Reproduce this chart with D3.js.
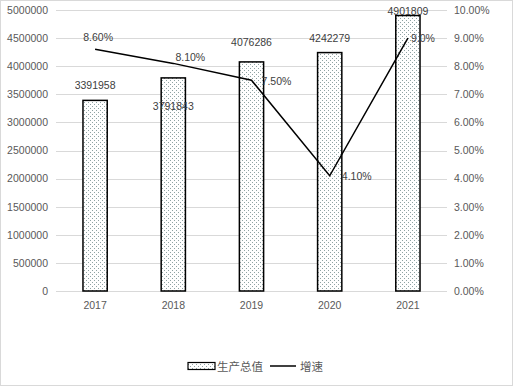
<!DOCTYPE html>
<html>
<head>
<meta charset="utf-8">
<script src="https://cdn.jsdelivr.net/npm/d3@7"></script>
<style>
  body { margin: 0; background: #fff; }
  svg { display: block; font-family: "Liberation Sans", Arial, sans-serif; }
  .tick text { fill: #595959; font-size: 10.5px; }
  .lbl { fill: #404040; font-size: 10.5px; }
  .legend text { fill: #595959; font-size: 11.5px; font-family: "Noto Sans CJK SC", sans-serif; }
</style>
</head>
<body>
<svg width="513" height="386"></svg>
<script>
const years = ["2017", "2018", "2019", "2020", "2021"];
const output = [3391958, 3791843, 4076286, 4242279, 4901809];
const growth = [0.086, 0.081, 0.075, 0.041, 0.090];
const growthLabels = ["8.60%", "8.10%", "7.50%", "4.10%", "9.0%"];
const leftTicks = [0, 500000, 1000000, 1500000, 2000000, 2500000, 3000000, 3500000, 4000000, 4500000, 5000000];
const rightTicks = [0, 0.01, 0.02, 0.03, 0.04, 0.05, 0.06, 0.07, 0.08, 0.09, 0.10];
const seriesNames = ["生产总值", "增速"];

const svg = d3.select("svg"),
      margin = {top: 10, right: 66, bottom: 95, left: 56},
      width = +svg.attr("width") - margin.left - margin.right,
      height = +svg.attr("height") - margin.top - margin.bottom;

// chart border
svg.append("rect")
    .attr("x", 0.5).attr("y", 0.5)
    .attr("width", 512).attr("height", 385)
    .attr("fill", "#fff").attr("stroke", "#d9d9d9");

// dotted fill
const pat = svg.append("defs").append("pattern")
    .attr("id", "dots")
    .attr("width", 4).attr("height", 4)
    .attr("patternUnits", "userSpaceOnUse");
pat.append("rect").attr("width", 4).attr("height", 4).attr("fill", "#fff");
pat.append("rect").attr("x", 0).attr("y", 0).attr("width", 1).attr("height", 1).attr("fill", "#8fa3a3");
pat.append("rect").attr("x", 2).attr("y", 2).attr("width", 1).attr("height", 1).attr("fill", "#8fa3a3");

const g = svg.append("g")
    .attr("transform", `translate(${margin.left},${margin.top})`);

const x = d3.scaleBand()
    .domain(years)
    .range([0, width])
    .paddingInner(0.69)
    .paddingOuter(0.345);

const y = d3.scaleLinear()
    .domain([0, 5000000])
    .range([height, 0]);

const y2 = d3.scaleLinear()
    .domain([0, 0.10])
    .range([height, 0]);

// Gridlines
g.append("g")
  .selectAll("line")
  .data(leftTicks)
  .join("line")
    .attr("x1", 0).attr("x2", width)
    .attr("y1", d => Math.round(y(d)) + 0.5)
    .attr("y2", d => Math.round(y(d)) + 0.5)
    .attr("stroke", "#d9d9d9");

// Axes
const yAxis = g.append("g")
    .call(d3.axisLeft(y).tickValues(leftTicks).tickSize(0).tickPadding(8).tickFormat(d3.format("d")));
yAxis.select(".domain").remove();

const y2Axis = g.append("g")
    .attr("transform", `translate(${width},0)`)
    .call(d3.axisRight(y2).tickValues(rightTicks).tickSize(0).tickPadding(7).tickFormat(d3.format(".2%")));
y2Axis.select(".domain").remove();

const xAxis = g.append("g")
    .attr("transform", `translate(0,${height})`)
    .call(d3.axisBottom(x).tickSize(0).tickPadding(11));
xAxis.select(".domain").remove();

// Bars
g.selectAll(".bar")
  .data(years)
  .join("rect")
    .attr("class", "bar")
    .attr("x", d => x(d))
    .attr("y", (d, i) => y(output[i]))
    .attr("width", x.bandwidth())
    .attr("height", (d, i) => height - y(output[i]))
    .attr("fill", "url(#dots)")
    .attr("stroke", "#000")
    .attr("stroke-width", 1.5);

// Line
const line = d3.line()
    .x((d, i) => x(years[i]) + x.bandwidth() / 2)
    .y(d => y2(d));

g.append("path")
    .datum(growth)
    .attr("fill", "none")
    .attr("stroke", "#000")
    .attr("stroke-width", 1.5)
    .attr("d", line);

// Bar labels (offsets relative to bar top)
const barLabelDy = [-11, 32, -16, -11, -1];
g.selectAll(".barlbl")
  .data(years)
  .join("text")
    .attr("class", "lbl")
    .attr("x", d => x(d) + x.bandwidth() / 2)
    .attr("y", (d, i) => y(output[i]) + barLabelDy[i])
    .attr("text-anchor", "middle")
    .text((d, i) => output[i]);

// Line labels
const lineLabelOffset = [[3, -8], [17, -2], [25, 5], [27, 4], [15, 4]];
g.selectAll(".linelbl")
  .data(years)
  .join("text")
    .attr("class", "lbl")
    .attr("x", (d, i) => x(d) + x.bandwidth() / 2 + lineLabelOffset[i][0])
    .attr("y", (d, i) => y2(growth[i]) + lineLabelOffset[i][1])
    .attr("text-anchor", "middle")
    .text((d, i) => growthLabels[i]);

// Legend
const legend = svg.append("g").attr("class", "legend");
legend.append("rect")
    .attr("x", 188).attr("y", 362.5)
    .attr("width", 27).attr("height", 7)
    .attr("fill", "url(#dots)")
    .attr("stroke", "#000").attr("stroke-width", 1.2);
legend.append("text")
    .attr("x", 217).attr("y", 370.5)
    .text(seriesNames[0]);
legend.append("line")
    .attr("x1", 270).attr("x2", 296)
    .attr("y1", 366).attr("y2", 366)
    .attr("stroke", "#000").attr("stroke-width", 1.5);
legend.append("text")
    .attr("x", 300).attr("y", 370.5)
    .text(seriesNames[1]);
</script>
</body>
</html>
